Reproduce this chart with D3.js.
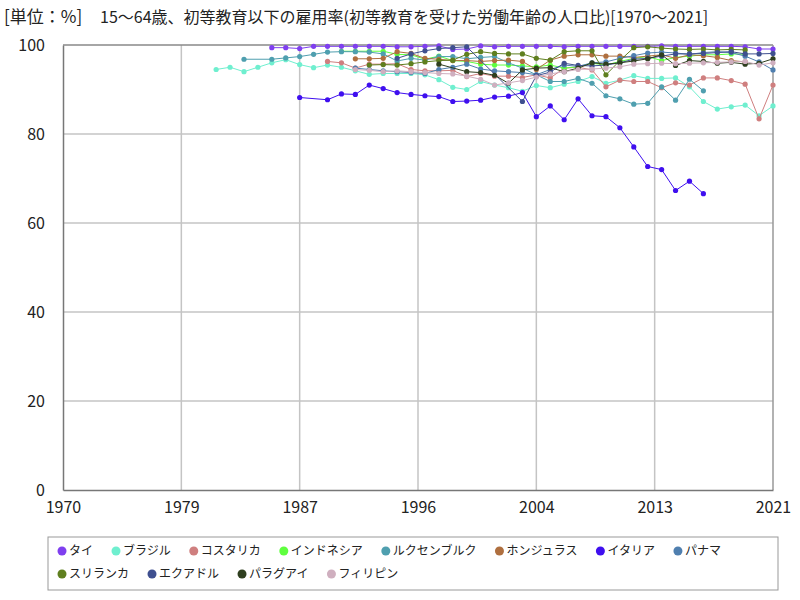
<!DOCTYPE html>
<html>
<head>
<meta charset="utf-8">
<script src="https://cdn.jsdelivr.net/npm/d3@7"></script>
<style>
  body { margin: 0; background: #fff; }
  text { font-family: "Noto Sans CJK JP", "Noto Sans", sans-serif; }
</style>
</head>
<body>
<div id="chart"></div>
<script>
var svgWidth = 800;
var svgHeight = 600;

var margin = { top: 45, right: 27, bottom: 110, left: 63 };
var width = svgWidth - margin.left - margin.right;
var height = svgHeight - margin.top - margin.bottom;

// years on the x axis
var years = [1981, 1982, 1983, 1984, 1985, 1986, 1987, 1988, 1989, 1990,
  1991, 1992, 1993, 1994, 1995, 1996, 1997, 1998, 1999, 2000,
  2001, 2002, 2003, 2004, 2005, 2006, 2007, 2008, 2009, 2010,
  2011, 2012, 2013, 2014, 2015, 2016, 2017, 2018, 2019, 2020,
  2021];

var xTickPos = [1970, 1978.5, 1987, 1995.5, 2004, 2012.5, 2021];
var xTickLabels = ["1970", "1979", "1987", "1996", "2004", "2013", "2021"];
var yTicks = [0, 20, 40, 60, 80, 100];

var names = ["タイ", "ブラジル", "コスタリカ", "インドネシア", "ルクセンブルク", "ホンジュラス",
  "イタリア", "パナマ", "スリランカ", "エクアドル", "パラグアイ", "フィリピン"];
var colors = ["#7f3fef", "#6fefcf", "#cf7f7f", "#5fff3f", "#4f9faf", "#af6f3f",
  "#3f0fef", "#4f7faf", "#5f7f1f", "#3f4f8f", "#2f3f1f", "#cfafbf"];

// values per year (null = no data), same order as years
var thai = [null, null, null, null, 99.4, 99.4, 99.2, 99.7, 99.7, 99.7,
  99.7, 99.7, 99.7, 99.6, 99.6, 99.7, 99.8, 99.0, 99.1, 99.8,
  99.6, 99.7, 99.7, 99.7, 99.7, 99.6, 99.7, 99.7, 99.7, 99.7,
  99.7, 99.7, 99.8, 99.7, 99.7, 99.7, 99.7, 99.7, 99.6, 99.1,
  99.1];
var brazil = [94.5, 95.0, 94.0, 95.0, 96.0, 96.7, 95.6, 94.9, 95.5, 95.0,
  94.2, 93.4, 93.6, 93.6, 93.6, 93.3, 92.2, 90.5, 90.0, 91.8,
  91.0, 90.4, 89.6, 90.9, 90.4, 91.2, 91.8, 92.9, 91.4, 92.1,
  93.1, 92.5, 92.5, 92.6, 90.6, 87.3, 85.6, 86.1, 86.5, 84.1,
  86.3];
var costaRica = [null, null, null, null, null, null, null, null, 96.3, 96.0,
  94.8, 95.7, 95.7, 95.8, 94.5, 94.2, 94.2, 94.3, 92.9, 93.6,
  93.0, 93.0, 92.7, 93.3, 92.6, 94.8, 95.0, 94.4, 90.6, 92.1,
  91.8, 91.8, 90.4, 91.5, 91.0, 92.6, 92.6, 92.0, 91.2, 83.4,
  91.0];
var indonesia = [null, null, null, null, null, null, null, null, null, 98.6,
  98.6, 98.6, 98.6, 97.9, 97.8, 96.8, 97.5, 96.5, 96.3, 95.7,
  95.5, 95.5, 95.3, 95.1, 95.5, 94.8, 95.1, 95.9, 95.5, 96.3,
  97.0, 97.4, 96.5, 97.2, 97.5, 97.8, 97.8, 98.0, 97.9, null,
  null];
var luxembourg = [null, null, 96.8, null, 96.8, 97.1, 97.4, 97.9, 98.4, 98.5,
  98.5, 98.4, 98.0, 96.4, 97.0, 96.6, 97.4, 97.4, 96.9, 97.2,
  97.4, 96.0, 94.8, 93.3, 91.8, 91.8, 92.5, 91.4, 88.6, 87.9,
  86.7, 86.9, 90.6, 87.6, 92.3, 89.7, null, null, null, null,
  null];
var honduras = [null, null, null, null, null, null, null, null, null, null,
  96.9, 96.9, 97.0, 98.5, 98.1, 97.0, 96.8, 96.5, 96.5, 96.3,
  96.5, 96.6, 96.3, 94.5, 96.6, 97.5, 97.8, 97.8, 97.5, 97.5,
  97.2, 97.5, 97.8, 97.0, 97.8, 97.6, 97.2, 96.5, 96.2, null,
  null];
var italy = [null, null, null, null, null, null, 88.2, null, 87.7, 89.0,
  88.9, 91.0, 90.2, 89.3, 88.9, 88.6, 88.4, 87.3, 87.4, 87.6,
  88.3, 88.5, 89.3, 83.9, 86.3, 83.2, 87.9, 84.1, 83.9, 81.4,
  77.1, 72.7, 72.0, 67.3, 69.4, 66.6, null, null, null, null,
  null];
var panama = [null, null, null, null, null, null, null, null, null, null,
  94.8, 94.5, 94.2, 94.0, 93.8, 93.6, 94.5, 95.0, 95.7, 94.6,
  94.2, 94.0, 93.8, 93.3, 94.5, 95.5, 95.2, 96.0, 96.2, 97.0,
  97.6, 98.2, 98.4, 98.2, 97.9, 98.3, 98.5, 98.3, 97.5, 96.2,
  94.4];
var sriLanka = [null, null, null, null, null, null, null, null, null, null,
  null, 95.5, 95.6, 95.5, 95.8, 96.2, 96.5, 96.6, 97.9, 98.5,
  98.1, 98.0, 98.0, 97.0, 96.6, 98.5, 98.7, 98.7, 93.3, 96.5,
  99.4, 99.6, 99.3, 99.1, 99.0, 99.1, 98.9, 99.0, 98.9, null,
  null];
var ecuador = [null, null, null, null, null, null, null, null, null, null,
  null, null, null, 97.0, 98.0, 98.7, 99.2, 99.4, 99.6, null,
  null, null, 87.3, 93.1, 93.9, 95.9, 95.4, 95.3, 95.5, 96.0,
  96.8, 97.0, 97.5, 98.0, 98.0, 98.1, 98.3, 98.5, 98.0, 98.0,
  98.1];
var paraguay = [null, null, null, null, null, null, null, null, null, null,
  null, null, null, null, null, null, 95.7, null, 94.0, 93.8,
  93.2, 91.4, 94.4, 94.8, 94.9, 94.0, 94.8, 96.0, 95.7, 96.0,
  96.4, 96.9, 97.8, 95.4, 96.5, 96.3, 95.9, 96.1, 95.7, 95.9,
  96.9];
var philippines = [null, null, null, null, null, null, null, null, null, null,
  94.5, 94.3, 94.0, 94.2, 94.0, 93.8, 93.6, 93.5, 93.0, 92.3,
  91.0, 91.5, 92.0, 92.8, 93.5, 94.0, 94.5, 94.6, 94.8, 95.1,
  95.7, 95.8, 95.9, 95.8, 95.9, 96.0, 96.1, 96.2, 96.3, 95.5,
  96.0];

var allValues = [thai, brazil, costaRica, indonesia, luxembourg, honduras,
  italy, panama, sriLanka, ecuador, paraguay, philippines];

var svg = d3.select("#chart")
  .append("svg")
  .attr("width", svgWidth)
  .attr("height", svgHeight);

var chartGroup = svg.append("g")
  .attr("transform", `translate(${margin.left}, ${margin.top})`);

var xScale = d3.scaleLinear().domain([1970, 2021]).range([0, width]);
var yScale = d3.scaleLinear().domain([0, 100]).range([height, 0]);

// gridlines
chartGroup.append("g")
  .selectAll("line")
  .data(yTicks.slice(1, -1))
  .enter()
  .append("line")
  .attr("x1", 0)
  .attr("x2", width)
  .attr("y1", d => yScale(d))
  .attr("y2", d => yScale(d))
  .attr("stroke", "#c4c4c4")
  .attr("stroke-width", 1.5);

chartGroup.append("g")
  .selectAll("line")
  .data(xTickPos.slice(1, -1))
  .enter()
  .append("line")
  .attr("x1", d => xScale(d))
  .attr("x2", d => xScale(d))
  .attr("y1", 0)
  .attr("y2", height)
  .attr("stroke", "#c4c4c4")
  .attr("stroke-width", 1.5);

// frame
chartGroup.append("line")
  .attr("x1", 0).attr("x2", width).attr("y1", 0).attr("y2", 0)
  .attr("stroke", "#888").attr("stroke-width", 1.5);
chartGroup.append("line")
  .attr("x1", width).attr("x2", width).attr("y1", 0).attr("y2", height)
  .attr("stroke", "#999").attr("stroke-width", 1.5);

// axes
var bottomAxis = d3.axisBottom(xScale)
  .tickValues(xTickPos)
  .tickFormat((d, i) => xTickLabels[i])
  .tickSize(0)
  .tickPadding(12);
var leftAxis = d3.axisLeft(yScale)
  .tickValues(yTicks)
  .tickSize(0)
  .tickPadding(18);

var xAxis = chartGroup.append("g")
  .attr("transform", `translate(0, ${height})`)
  .call(bottomAxis);
var yAxis = chartGroup.append("g").call(leftAxis);

[xAxis, yAxis].forEach(function(ax) {
  ax.select(".domain").attr("stroke", "#777").attr("stroke-width", 1.5);
  ax.selectAll("text")
    .attr("font-size", "16px")
    .attr("fill", "#222")
    .style("font-family", "'Noto Sans CJK JP', sans-serif");
});
xAxis.selectAll("text").attr("dy", "0.7em");

// lines and points
var line = d3.line()
  .x(d => xScale(d.year))
  .y(d => yScale(d.value));

allValues.forEach(function(vals, i) {
  var pts = years.map((yr, j) => ({ year: yr, value: vals[j] }))
    .filter(d => d.value !== null);

  var g = chartGroup.append("g");
  g.append("path")
    .datum(pts)
    .attr("d", line)
    .attr("fill", "none")
    .attr("stroke", colors[i])
    .attr("stroke-width", 1);

  g.selectAll("circle")
    .data(pts)
    .enter()
    .append("circle")
    .attr("cx", d => xScale(d.year))
    .attr("cy", d => yScale(d.value))
    .attr("r", 2.6)
    .attr("fill", colors[i]);
});

// titles
svg.append("text")
  .attr("x", 4)
  .attr("y", 23)
  .attr("font-size", "17px")
  .attr("fill", "#222")
  .text("[単位：%]");

svg.append("text")
  .attr("x", 100)
  .attr("y", 23)
  .attr("font-size", "16px")
  .attr("fill", "#222")
  .text("15～64歳、初等教育以下の雇用率(初等教育を受けた労働年齢の人口比)[1970～2021]");

// legend
var legendGroup = svg.append("g");
legendGroup.append("rect")
  .attr("x", 48)
  .attr("y", 537)
  .attr("width", 730)
  .attr("height", 53)
  .attr("fill", "#fff")
  .attr("stroke", "#999")
  .attr("stroke-width", 1);

var rowBreak = 8;
var lx = 62, ly = 551;
names.forEach(function(name, i) {
  if (i === rowBreak) { lx = 62; ly = 574; }
  var item = legendGroup.append("g").attr("transform", `translate(${lx}, ${ly})`);
  item.append("circle").attr("r", 4.5).attr("fill", colors[i]);
  var t = item.append("text")
    .attr("x", 7)
    .attr("dy", "0.35em")
    .attr("font-size", "12px")
    .attr("fill", "#222")
    .text(name);
  lx += 7 + t.node().getComputedTextLength() + 23;
});
</script>
</body>
</html>
